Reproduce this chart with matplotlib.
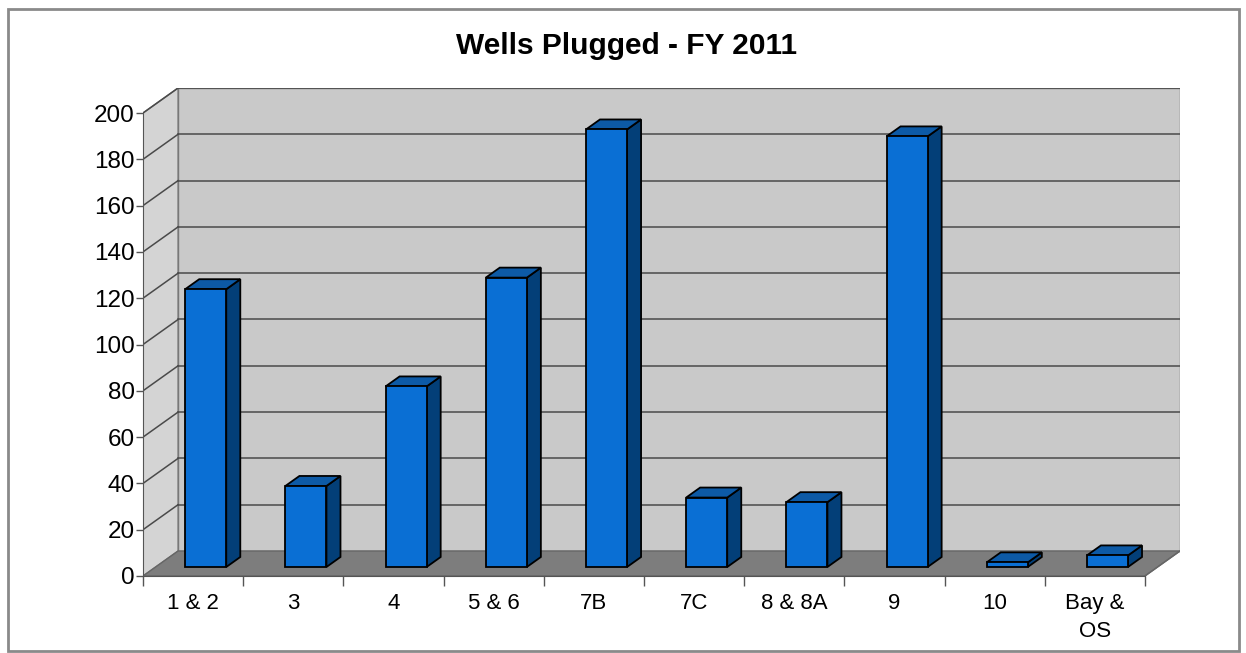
import matplotlib
matplotlib.use('Agg')
import matplotlib.pyplot as plt
from matplotlib.patches import Polygon, Rectangle
import numpy as np

plt.rcParams["font.family"] = ["Liberation Sans", "DejaVu Sans"]

districts = ['1 & 2', '3', '4', '5 & 6', '7B', '7C', '8 & 8A', '9', '10', 'Bay &\nOS']
wells = [120, 35, 78, 125, 189, 30, 28, 186, 2, 5]
y_ticks = [0, 20, 40, 60, 80, 100, 120, 140, 160, 180, 200]

# fake 3d: depth vector in data units (category, value)
dep_x = 0.35
dep_y = 10.8
f0, f1 = 0.36, 0.76   # bar front / back depth fraction
bar_w = 0.41

wall_c = '#c9c9c9'
side_wall_c = '#d4d4d4'
floor_c = '#7d7d7d'
front_c = '#0a6fd4'
side_c = '#033f78'
top_c = '#0d5aa6'

fig = plt.figure(figsize=(12.46, 6.53), dpi=100)
W, H = 1246, 653
ax = fig.add_axes([143 / W, (H - 576) / H, (1180 - 143) / W, (576 - 88) / H])
n = len(districts)
x0, x1 = -0.5, n - 0.5
ax.set_xlim(x0, x1 + dep_x)
ax.set_ylim(0, 200 + dep_y)
ax.patch.set_visible(False)

# outer frame
fig.patches.append(Rectangle((8 / W, 2 / H), (1239 - 8) / W, (644 - 2) / H,
                             transform=fig.transFigure, fill=False,
                             edgecolor='#8a8a8a', linewidth=2))

ymax = y_ticks[-1]
# back wall
ax.add_patch(Polygon([(x0 + dep_x, dep_y), (x1 + dep_x, dep_y),
                      (x1 + dep_x, ymax + dep_y), (x0 + dep_x, ymax + dep_y)],
                     closed=True, facecolor=wall_c, edgecolor='#777777', lw=1, zorder=1))
# left wall
ax.add_patch(Polygon([(x0, 0), (x0 + dep_x, dep_y), (x0 + dep_x, ymax + dep_y), (x0, ymax)],
                     closed=True, facecolor=side_wall_c, edgecolor='#777777', lw=1, zorder=1))
# floor
ax.add_patch(Polygon([(x0, 0), (x1, 0), (x1 + dep_x, dep_y), (x0 + dep_x, dep_y)],
                     closed=True, facecolor=floor_c, edgecolor='#666666', lw=1, zorder=1.5))

# gridlines
for v in y_ticks[1:]:
    ax.plot([x0 + dep_x, x1 + dep_x], [v + dep_y, v + dep_y], color='#4a4a4a', lw=1.1, zorder=2)
    ax.plot([x0, x0 + dep_x], [v, v + dep_y], color='#4a4a4a', lw=1.1, zorder=2)

# bars
xs = np.arange(n)
xf = xs + dep_x * f0
yb = dep_y * f0
ax.bar(xf, wells, width=bar_w, bottom=yb, color=front_c, edgecolor='black', lw=1.3, zorder=4)
ddx = dep_x * (f1 - f0)
ddy = dep_y * (f1 - f0)
for xi, v in zip(xf, wells):
    l, r = xi - bar_w / 2, xi + bar_w / 2
    t = yb + v
    ax.add_patch(Polygon([(r, yb), (r + ddx, yb + ddy), (r + ddx, t + ddy), (r, t)],
                         closed=True, facecolor=side_c, edgecolor='black', lw=1.3, zorder=3))
    ax.add_patch(Polygon([(l, t), (r, t), (r + ddx, t + ddy), (l + ddx, t + ddy)],
                         closed=True, facecolor=top_c, edgecolor='black', lw=1.3, zorder=3))

# axes lines
for s in ['top', 'right']:
    ax.spines[s].set_visible(False)
ax.spines['left'].set_bounds(0, ymax)
ax.spines['bottom'].set_bounds(x0, x1)
ax.spines['left'].set_color('#555555')
ax.spines['bottom'].set_color('#555555')
ax.spines['left'].set_zorder(5)
ax.spines['bottom'].set_zorder(5)
ax.plot([x1, x1 + dep_x], [0, dep_y], color='#666666', lw=1, zorder=2)

ax.set_yticks(y_ticks)
ax.set_yticklabels([str(v) for v in y_ticks], fontsize=17.5)
ax.tick_params(axis='y', length=5, width=1, color='#555555', pad=1)
ax.set_xticks(xs)
ax.set_xticklabels(districts, fontsize=16, linespacing=1.45, va='top')
ax.set_xticks(np.arange(n + 1) - 0.5, minor=True)
ax.tick_params(axis='x', which='major', length=0, pad=12)
ax.tick_params(axis='x', which='minor', length=7, width=1, color='#555555')

fig.text(627 / W, 1 - 46 / H, 'Wells Plugged - FY 2011', ha='center', va='center',
         fontsize=21.5, fontweight='bold')

fig.savefig('out.png', dpi=100)
